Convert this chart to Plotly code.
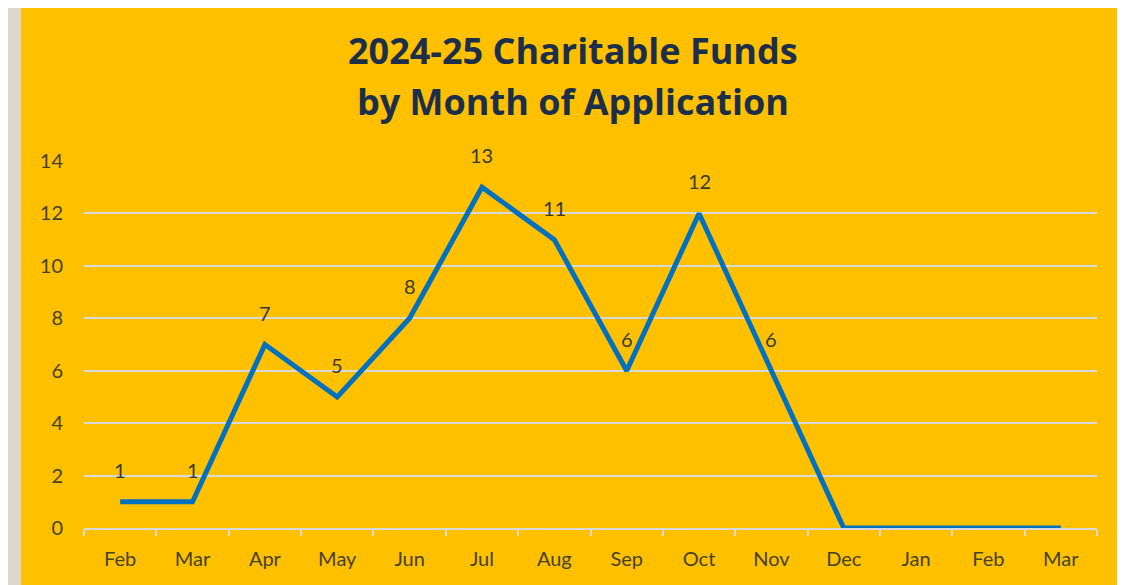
import plotly.graph_objects as go

months = ["Feb", "Mar", "Apr", "May", "Jun", "Jul", "Aug", "Sep", "Oct", "Nov", "Dec", "Jan", "Feb ", "Mar "]
values = [1, 1, 7, 5, 8, 13, 11, 6, 12, 6, 0, 0, 0, 0]
tick_labels = ["Feb", "Mar", "Apr", "May", "Jun", "Jul", "Aug", "Sep", "Oct", "Nov", "Dec", "Jan", "Feb", "Mar"]
title_lines = ["2024-25 Charitable Funds", "by Month of Application"]

YELLOW = "#FFC000"
GRAY_BG = "#DDD6CC"

fig = go.Figure()
fig.add_trace(go.Scatter(
    x=months, y=values, mode="lines",
    line=dict(color="#0070C0", width=5),
    hoverinfo="x+y", showlegend=False,
))

annotations = []
for m, v in zip(months, values):
    if v > 0:
        annotations.append(dict(
            x=m, y=v, xref="x", yref="y", text=str(v), showarrow=False,
            yshift=32, font=dict(family="Lato, Liberation Sans, sans-serif", size=20, color="#3A3A30"),
        ))
for i, t in enumerate(title_lines):
    annotations.append(dict(
        x=0.483, y=[(528 - 50) / 367, (528 - 102) / 367][i], xref="paper", yref="paper",
        text="<b>" + t + "</b>",
        showarrow=False, xanchor="center", yanchor="middle",
        font=dict(family="Open Sans, Noto Sans, sans-serif", size=36, color="#1B2F4B"),
    ))

fig.update_layout(
    width=1117, height=577,
    margin=dict(l=76, r=28, t=153, b=57),
    paper_bgcolor=YELLOW, plot_bgcolor=YELLOW,
    annotations=annotations,
    shapes=[
        dict(type="rect", xref="paper", yref="paper", x0=-0.2, x1=(21 - 84) / 1013,
             y0=-0.3, y1=1.6, fillcolor=GRAY_BG, line_width=0, layer="below"),
    ],
    xaxis=dict(
        type="category", categoryorder="array", categoryarray=months,
        tickmode="array", tickvals=months, ticktext=tick_labels,
        tickson="boundaries", ticks="outside", ticklen=6, tickcolor="#D9D9D9", tickwidth=2,
        showline=True, linecolor="#D9D9D9", linewidth=2,
        showgrid=False, ticklabelstandoff=12,
        tickfont=dict(family="Lato, Liberation Sans, sans-serif", size=20, color="#46422A"),
        range=[-0.5, 13.5],
    ),
    yaxis=dict(
        range=[0, 14], tickvals=[0, 2, 4, 6, 8, 10, 12, 14],
        showgrid=True, gridcolor="#D9D9D9", gridwidth=2,
        zeroline=False, showline=False, ticks="", ticklabelstandoff=20,
        tickfont=dict(family="Lato, Liberation Sans, sans-serif", size=20, color="#46422A"),
    ),
)

fig.write_html("out.html")
